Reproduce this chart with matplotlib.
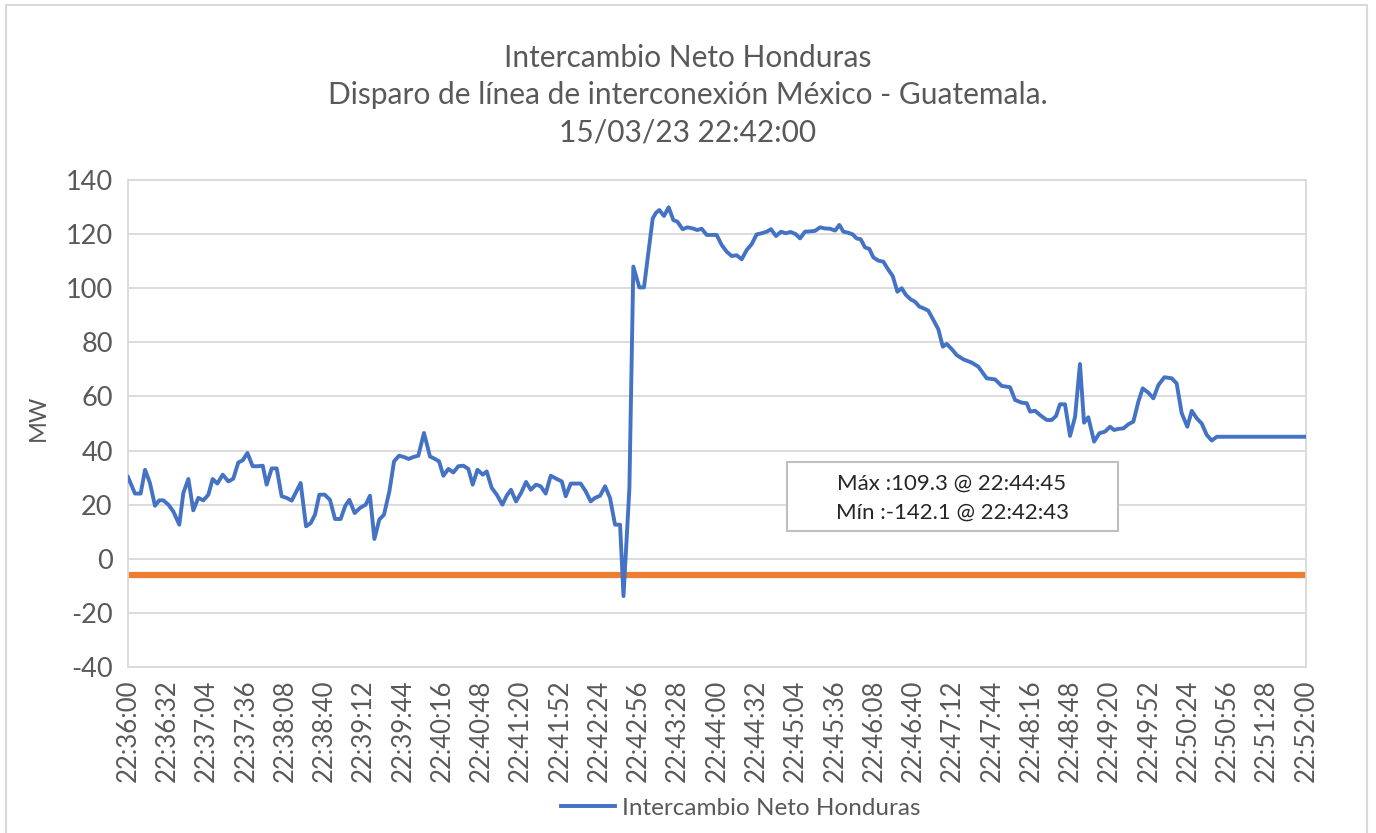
import matplotlib
matplotlib.use("Agg")
import matplotlib.pyplot as plt
from matplotlib.patches import Rectangle

plt.rcParams['font.family'] = ['Lato', 'DejaVu Sans']

# seconds after 22:36:00 and net exchange (MW)
t_sec = [0, 5.7, 10.3, 13.9, 17.9, 22, 25.5, 28.8, 32.9, 36.9, 41.8, 45.1, 49.2, 53.2, 57.3,
         61.4, 65.5, 69, 72.8, 77.2, 81.8, 85.8, 89.9, 93.5, 97.3, 101.6, 105.4, 109.8, 113,
         117.1, 121.2, 125.2, 129.3, 133.4, 136.9, 140.7, 145.1, 148.9, 152.4, 155.9, 160.3,
         164.6, 168.7, 173.3, 177.1, 180.4, 184.7, 189.1, 193.7, 197.2, 200.8, 204.8, 208.6,
         213, 216.8, 220.9, 224.9, 228.7, 232.5, 236.6, 241.2, 246.1, 250.2, 253.5, 257,
         261.1, 265.1, 269.2, 273.3, 277.4, 280.9, 284.8, 289.1, 292.3, 296.4, 300.5, 305.1,
         308.6, 312.1, 316.2, 320.3, 324.4, 328.2, 332.5, 336.3, 340.4, 344.5, 349.4, 353.5,
         356.7, 360.8, 365.1, 368.9, 373, 377.1, 380.6, 384.7, 388.8, 392.8, 396.9, 401,
         403.8, 408.6, 411.8, 416.7, 420.5, 424, 427.6, 430.3, 433, 436.8, 440.6, 444.4,
         447.7, 452, 455.8, 460.2, 464, 467.5, 471.6, 475.7, 479.7, 483.8, 487.9, 492, 496,
         500.1, 504.2, 508.3, 512.3, 516.4, 520.5, 524, 528.1, 532.2, 536, 540, 544.1, 547.7,
         551.7, 555.8, 559.9, 564, 568, 572.1, 576.2, 579.7, 583, 587, 590.6, 593.8, 597.1,
         600.6, 604.2, 607.4, 611.5, 615.6, 618.8, 623.2, 627, 630.5, 634, 637.8, 641.4,
         644.9, 648.2, 652.2, 656.3, 660.4, 664, 667.2,
         671.5, 675.3, 680.8, 687.6, 693, 699.8, 706.6, 712, 718.8, 722.9, 728.3, 732.4,
         735.1, 739.2, 743.3, 748.7, 752.8, 756.3, 759.5, 763.6, 767.7, 771.8, 775.8, 779.1,
         782.6, 787.3, 791.6, 796.2, 800.3, 803.6, 807.1, 811.2, 815.2, 819.3, 823.4, 826.9,
         831.5, 835.6, 839.7, 844.6, 850.6, 854.6, 858.7, 863.3, 866.9, 871, 875, 879.1,
         883.2, 887.3, 900, 920, 940, 960]
mw = [30.2, 24.1, 24.1, 32.9, 28, 19.6, 21.6, 21.6, 20, 17.5, 12.6, 24.3, 29.5, 17.9, 22.5,
      21.6, 23.7, 29.5, 27.8, 31.1, 28.6, 29.6, 35.6, 36.4, 39.1, 34.2, 34.2, 34.4, 27.4,
      33.4, 33.4, 23.1, 22.5, 21.5, 24.6, 28, 12, 13.2, 16.3, 23.7, 23.7,
      21.8, 14.7, 14.7, 19.6, 21.8, 16.9, 18.8, 20, 23.3, 7.3, 14.5, 16.3,
      24.9, 36, 38.1, 37.6, 36.9, 37.6, 38.1, 46.5, 37.8, 36.9, 36, 30.7,
      33.2, 31.9, 34.2, 34.4, 33.2, 27.4, 32.9, 31.1, 32.3, 26.2, 23.7, 20,
      23.3, 25.5, 21.2, 24.3, 28.4, 25.5, 27.4, 26.8, 24.1, 30.7, 29.5, 28.6,
      23.1, 27.8, 27.8, 27.8, 24.9, 21.2, 22.5, 23.3, 26.8, 22.5, 12.6, 12.6,
      -13.8, 26, 108, 100.3, 100.3, 112.9, 125.8, 127.9, 128.9, 126.7, 129.9, 125.2,
      124.6, 121.8, 122.5, 122.1, 121.5, 122, 119.7, 119.7, 119.7, 116, 113.5, 111.9, 112.2,
      110.7, 114.1, 116.3, 119.9, 120.3, 120.9, 121.8, 119.3, 120.9, 120.3, 120.8, 120, 118.4,
      120.9, 121, 121.2, 122.5, 122.1, 122, 121.3, 123.4, 120.9, 120.5, 119.9, 118.4, 118.1,
      115.1, 114.5, 111.4, 110.2, 109.8, 107.4, 104.5, 98.7, 100, 97.5, 95.9, 95,
      93.2, 92.6, 91.7, 88.3, 84.8, 78.4, 79.4,
      77.4, 75.3, 73.7, 72.5, 71, 66.7, 66.3, 63.9, 63.4, 58.7, 57.7, 57.5,
      54.4, 54.7, 53.1, 51.3, 51.3, 52.8, 57.1, 57.1, 45.4, 52.5, 72, 50.3,
      52.3, 43.3, 46.4, 47, 48.8, 47.6, 48, 48.2, 49.7, 50.7, 58.1, 63,
      61.4, 59.3, 64.2, 67.1, 66.7, 64.8, 53.8, 48.8, 54.7, 51.9, 50, 45.8,
      43.7, 45.1, 45.1, 45.1, 45.1, 45.1]

limit_value = -6
tick_labels = ["22:36:00", "22:36:32", "22:37:04", "22:37:36", "22:38:08", "22:38:40",
               "22:39:12", "22:39:44", "22:40:16", "22:40:48", "22:41:20", "22:41:52",
               "22:42:24", "22:42:56", "22:43:28", "22:44:00", "22:44:32", "22:45:04",
               "22:45:36", "22:46:08", "22:46:40", "22:47:12", "22:47:44", "22:48:16",
               "22:48:48", "22:49:20", "22:49:52", "22:50:24", "22:50:56", "22:51:28",
               "22:52:00"]
y_ticks = [-40, -20, 0, 20, 40, 60, 80, 100, 120, 140]

W, H = 1376, 833
fig = plt.figure(figsize=(W / 100, H / 100), dpi=100)
fig.patch.set_facecolor('white')

# chart-area border
fig.patches.append(Rectangle((6 / W, -0.01), (1367 - 6) / W, 1 - 5 / H + 0.01,
                             transform=fig.transFigure, fill=False,
                             edgecolor='#d9d9d9', lw=1.5))

ax = fig.add_axes([128 / W, 1 - 667 / H, (1306 - 128) / W, (667 - 180) / H])
grid_c = '#d9d9d9'
text_c = '#595959'

ax.plot(t_sec, mw, color='#4472C4', lw=2.8, solid_joinstyle='round', zorder=3,
        label='Intercambio Neto Honduras')
ax.axhline(limit_value, color='#ED7D31', lw=4.5, zorder=2, solid_capstyle='butt')

ax.set_xlim(0, 960)
ax.set_ylim(-40, 140)
ax.set_yticks(y_ticks)
ax.set_yticklabels([str(v) for v in y_ticks])
ax.set_xticks([i * 32 for i in range(len(tick_labels))])
ax.set_xticklabels(tick_labels, rotation=90)
ax.grid(axis='y', color=grid_c, lw=1.3)
ax.set_axisbelow(True)
for s in ax.spines.values():
    s.set_color(grid_c)
    s.set_linewidth(1.3)
ax.tick_params(axis='y', length=0, colors=text_c, labelsize=19.5, pad=11)
ax.tick_params(axis='x', length=0, colors=text_c, labelsize=18.5, pad=9)

fig.text(38 / W, 1 - 418 / H, 'MW', rotation=90, ha='center', va='center',
         color=text_c, fontsize=17)

fig.text(0.5, 1 - 95 / H, 'Intercambio Neto Honduras\nDisparo de línea de interconexión México - Guatemala.\n15/03/23 22:42:00',
         ha='center', va='center', color=text_c, fontsize=21.5, linespacing=1.4)

# annotation box
fig.patches.append(Rectangle((787 / W, 1 - 531 / H), (1118 - 787) / W, (531 - 462) / H,
                             transform=fig.transFigure, fill=True, facecolor='white',
                             edgecolor='#bfbfbf', lw=1.5, zorder=5))
fig.text(952 / W, 1 - 484 / H, 'Máx :109.3 @ 22:44:45', ha='center', va='center',
         color='#262626', fontsize=16, zorder=6)
fig.text(952 / W, 1 - 513 / H, 'Mín :-142.1 @ 22:42:43', ha='center', va='center',
         color='#262626', fontsize=16, zorder=6)

leg = fig.legend(handles=ax.get_lines()[:1], loc='center', bbox_to_anchor=(741 / W, 1 - 808 / H),
                 frameon=False, fontsize=17.5, handlelength=2.2, handletextpad=0.3)
for txt in leg.get_texts():
    txt.set_color(text_c)

fig.savefig('out.png', dpi=100)
